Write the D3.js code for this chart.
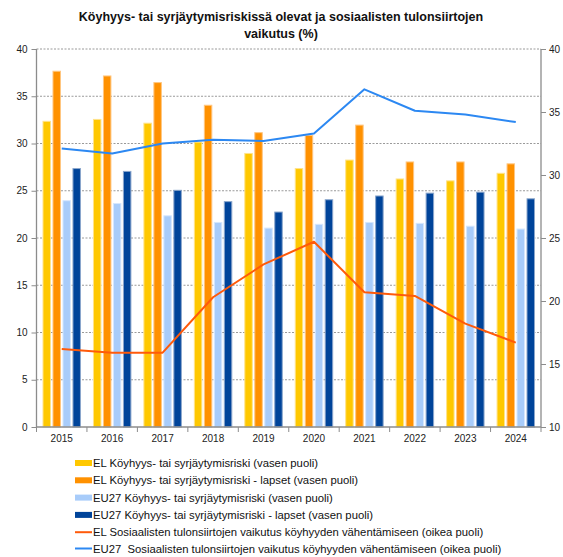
<!DOCTYPE html>
<html>
<head>
<meta charset="utf-8">
<script src="https://cdn.jsdelivr.net/npm/d3@7"></script>
<style>
  html, body { margin: 0; padding: 0; background: #fff; }
  svg { display: block; font-family: "Liberation Sans", Arial, sans-serif; }
  .legend text { white-space: pre; }
</style>
</head>
<body>
<svg id="chart" width="563" height="557"></svg>
<script>
// Data
const years = ["2015","2016","2017","2018","2019","2020","2021","2022","2023","2024"];
const elRisk      = [32.4, 32.6, 32.2, 30.2, 29.0, 27.4, 28.3, 26.3, 26.1, 26.9];
const elRiskKids  = [37.7, 37.2, 36.5, 34.1, 31.2, 30.9, 32.0, 28.1, 28.1, 27.9];
const euRisk      = [24.0, 23.7, 22.4, 21.7, 21.1, 21.5, 21.7, 21.6, 21.3, 21.0];
const euRiskKids  = [27.4, 27.1, 25.1, 23.9, 22.8, 24.1, 24.5, 24.8, 24.9, 24.2];
const elTransfers = [16.2, 15.9, 15.9, 20.3, 22.9, 24.7, 20.7, 20.4, 18.2, 16.7];
const euTransfers = [32.1, 31.7, 32.5, 32.8, 32.7, 33.3, 36.8, 35.1, 34.8, 34.2];
const leftTicks  = [0, 5, 10, 15, 20, 25, 30, 35, 40];
const rightTicks = [10, 15, 20, 25, 30, 35, 40];

const titleLines = ["Köyhyys- tai syrjäytymisriskissä olevat ja sosiaalisten tulonsiirtojen", "vaikutus (%)"];

const barSeries = [
  { name: "EL Köyhyys- tai syrjäytymisriski (vasen puoli)", values: elRisk, fill: "#FFC800", edge: "#FFE38A" },
  { name: "EL Köyhyys- tai syrjäytymisriski - lapset (vasen puoli)", values: elRiskKids, fill: "#FF9100", edge: "#FFC680" },
  { name: "EU27 Köyhyys- tai syrjäytymisriski (vasen puoli)", values: euRisk, fill: "#A8CCFA", edge: "#D6E7FD" },
  { name: "EU27 Köyhyys- tai syrjäytymisriski - lapset (vasen puoli)", values: euRiskKids, fill: "#00449A", edge: "#8AA6CC" }
];
const lineSeries = [
  { name: "EL Sosiaalisten tulonsiirtojen vaikutus köyhyyden vähentämiseen (oikea puoli)", values: elTransfers, color: "#FF5A0A" },
  { name: "EU27  Sosiaalisten tulonsiirtojen vaikutus köyhyyden vähentämiseen (oikea puoli)", values: euTransfers, color: "#2C88F2" }
];

const svg = d3.select("#chart");
const plot = { left: 36.5, right: 541, top: 49, bottom: 427 };

const x = d3.scaleBand().domain(years).range([plot.left, plot.right]).padding(0);
const xInner = d3.scaleBand().domain(d3.range(barSeries.length)).range([6, x.bandwidth() - 6]).paddingInner(0.15);
const yLeft = d3.scaleLinear().domain([0, 40]).range([plot.bottom, plot.top]);
const yRight = d3.scaleLinear().domain([10, 40]).range([plot.bottom, plot.top]);

// Title
svg.append("text")
  .attr("x", 281).attr("y", 21)
  .attr("text-anchor", "middle")
  .attr("font-weight", "bold").attr("font-size", 12.5).attr("fill", "#111")
  .selectAll("tspan").data(titleLines).join("tspan")
  .attr("x", 281).attr("dy", (d, i) => i === 0 ? 0 : 17)
  .text(d => d);

// Dotted gridlines at left-axis ticks
svg.append("g").selectAll("line")
  .data(leftTicks.filter(t => t > 0)).join("line")
  .attr("x1", plot.left).attr("x2", plot.right)
  .attr("y1", d => yLeft(d)).attr("y2", d => yLeft(d))
  .attr("stroke", "#9a9a9a").attr("stroke-width", 1)
  .attr("stroke-dasharray", "2,1.5");

// Bars
const groups = svg.append("g").selectAll("g")
  .data(barSeries).join("g");
groups.selectAll("rect")
  .data((s, si) => s.values.map((v, i) => ({ v, year: years[i], si, s })))
  .join("rect")
  .attr("x", d => x(d.year) + xInner(d.si) + 0.5)
  .attr("y", d => yLeft(d.v) + 0.5)
  .attr("width", xInner.bandwidth() - 1)
  .attr("height", d => yLeft(0) - yLeft(d.v) - 0.5)
  .attr("fill", d => d.s.fill)
  .attr("stroke", d => d.s.edge)
  .attr("stroke-width", 1);

// Lines on the right axis
const line = d3.line()
  .x((d, i) => x(years[i]) + x.bandwidth() / 2)
  .y(d => yRight(d));
lineSeries.forEach(s => {
  svg.append("path")
    .datum(s.values)
    .attr("d", line)
    .attr("fill", "none")
    .attr("stroke", s.color)
    .attr("stroke-width", 2)
    .attr("stroke-linejoin", "round");
});

// Axes
const axisColor = "#8c8c8c";
const leftAxis = svg.append("g")
  .attr("transform", `translate(${plot.left},0)`)
  .call(d3.axisLeft(yLeft).tickValues(leftTicks).tickSize(5).tickPadding(4));
const rightAxis = svg.append("g")
  .attr("transform", `translate(${plot.right},0)`)
  .call(d3.axisRight(yRight).tickValues(rightTicks).tickSize(5).tickPadding(3));
const bottomAxis = svg.append("g")
  .attr("transform", `translate(0,${plot.bottom})`)
  .call(d3.axisBottom(x).tickSize(0).tickPadding(8));

// Category boundary ticks on the x axis
svg.append("g").selectAll("line")
  .data(d3.range(years.length + 1)).join("line")
  .attr("x1", i => plot.left + i * x.step()).attr("x2", i => plot.left + i * x.step())
  .attr("y1", plot.bottom).attr("y2", plot.bottom + 5)
  .attr("stroke", axisColor);

[leftAxis, rightAxis, bottomAxis].forEach(a => {
  a.select(".domain").attr("stroke", axisColor).attr("stroke-width", 1.3);
  a.selectAll(".tick line").attr("stroke", axisColor);
  a.selectAll(".tick text").attr("fill", "#222").attr("font-size", 10)
    .attr("font-family", "'Liberation Sans', Arial, sans-serif");
});
leftAxis.select(".domain").attr("d", `M0,${plot.top}V${plot.bottom}`);
rightAxis.select(".domain").attr("d", `M0,${plot.top}V${plot.bottom}`);
bottomAxis.select(".domain").attr("d", `M${plot.left},0H${plot.right}`);

// Legend
const legend = svg.append("g").attr("class", "legend").attr("transform", "translate(75,463)");
const rowH = 17.3;
barSeries.forEach((s, i) => {
  const g = legend.append("g").attr("transform", `translate(0,${i * rowH})`);
  g.append("rect").attr("x", 0).attr("y", -3).attr("width", 17).attr("height", 6).attr("fill", s.fill);
  g.append("text").attr("x", 18).attr("y", 4).attr("font-size", 11.3).attr("fill", "#111").text(s.name);
});
lineSeries.forEach((s, j) => {
  const i = barSeries.length + j;
  const g = legend.append("g").attr("transform", `translate(0,${i * rowH - (j === 1 ? 1 : 0)})`);
  g.append("line").attr("x1", 0).attr("x2", 17).attr("y1", 0).attr("y2", 0)
    .attr("stroke", s.color).attr("stroke-width", 2);
  g.append("text").attr("x", 18).attr("y", 4).attr("font-size", 11.3).attr("fill", "#111").text(s.name);
});
</script>
</body>
</html>
